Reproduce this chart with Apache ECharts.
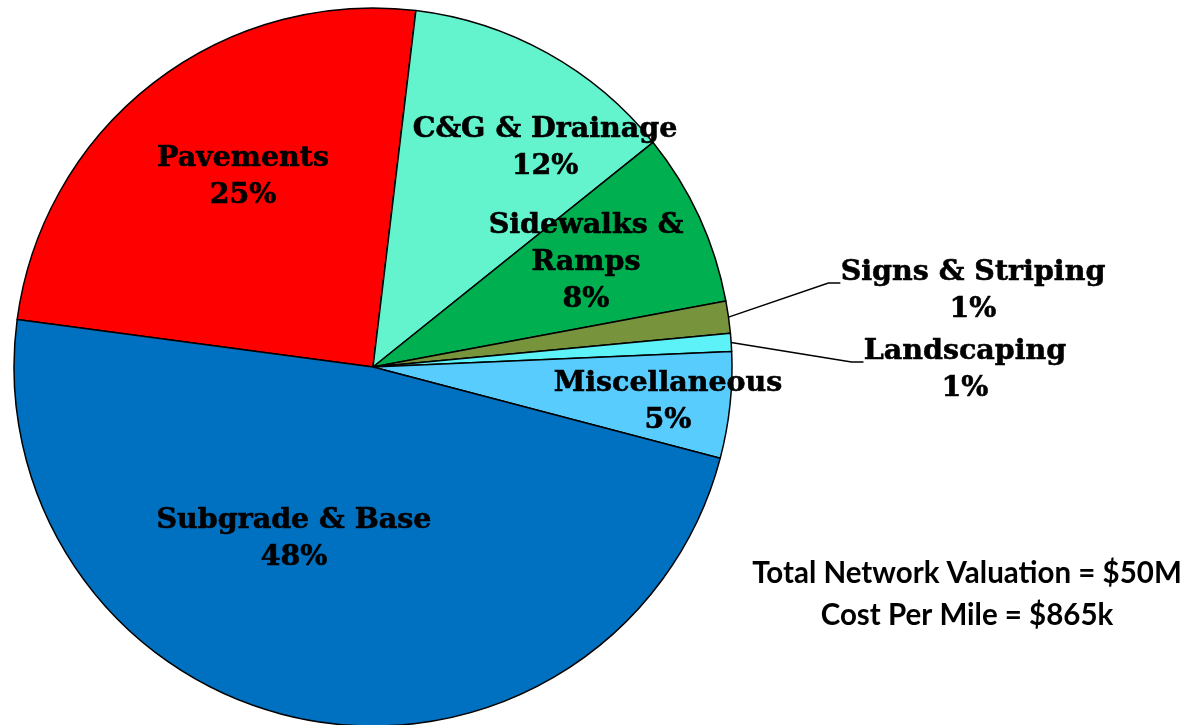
<!DOCTYPE html>
<html>
<head>
<meta charset="utf-8">
<script src="https://cdn.jsdelivr.net/npm/echarts@6/dist/echarts.min.js"></script>
<style>
html,body{margin:0;padding:0;background:#fff;}
#chart{width:1198px;height:725px;}
</style>
</head>
<body>
<div id="chart"></div>
<script>
// ---- data ----
const categories = ['Pavements', 'C&G & Drainage', 'Sidewalks & Ramps', 'Signs & Striping', 'Landscaping', 'Miscellaneous', 'Subgrade & Base'];
const shares = [24.76, 12.32, 7.8, 1.45, 0.81, 4.77, 47.95];
const noteLines = ['Total Network Valuation = $50M', 'Cost Per Mile = $865k'];

// ---- styling / layout ----
const colors = ['#FF0000', '#63F4CD', '#00B050', '#77933C', '#5CF2F7', '#57CCFD', '#0070C0'];
const outsideLabels = ['Signs & Striping', 'Landscaping'];
const labelText = { 'Sidewalks & Ramps': 'Sidewalks &\nRamps' };
const labelPos = {
  'Pavements': [243, 177],
  'C&G & Drainage': [545, 148],
  'Sidewalks & Ramps': [586, 263],
  'Signs & Striping': [973, 283],
  'Landscaping': [965, 362],
  'Miscellaneous': [668, 402],
  'Subgrade & Base': [294, 539]
};

const total = shares.reduce((a, b) => a + b, 0);
const seriesData = categories.map((name, i) => {
  const outside = outsideLabels.indexOf(name) >= 0;
  return {
    name: name,
    value: shares[i],
    itemStyle: { color: colors[i] },
    label: { position: outside ? 'outside' : 'inside' },
    labelLine: { show: outside }
  };
});

const chart = echarts.init(document.getElementById('chart'), null, { renderer: 'canvas' });
chart.setOption({
  animation: false,
  backgroundColor: '#ffffff',
  title: {
    text: noteLines.join('\n'),
    left: 962,
    top: 547,
    textAlign: 'center',
    textStyle: {
      fontFamily: 'Lato',
      fontWeight: 'bold',
      fontSize: 29.5,
      lineHeight: 42,
      color: '#000'
    }
  },
  series: [{
    type: 'pie',
    center: [373, 367],
    radius: 359,
    startAngle: 172.4,
    clockwise: true,
    avoidLabelOverlap: false,
    data: seriesData,
    itemStyle: { borderColor: '#000', borderWidth: 1.5 },
    label: {
      show: true,
      color: '#000',
      fontFamily: 'DejaVu Serif',
      fontWeight: 'bold',
      fontSize: 28.5,
      lineHeight: 37,
      align: 'center',
      textBorderColor: '#000',
      textBorderWidth: 0.6,
      rich: {
        gap: { lineHeight: 16, fontSize: 2, height: 16 }
      },
      formatter: function (p) {
        const t = labelText[p.name] || p.name;
        const pct = Math.round(p.value / total * 100) + '%';
        const lead = outsideLabels.indexOf(p.name) >= 0 ? '{gap| }\n' : '';
        return lead + t + '\n' + pct;
      }
    },
    labelLine: {
      length: 20,
      length2: 12,
      lineStyle: { color: '#000', width: 1.5 }
    },
    labelLayout: function (p) {
      const name = categories[p.dataIndex];
      const pos = labelPos[name];
      return { x: pos[0], y: pos[1], align: 'center', verticalAlign: 'middle' };
    }
  }]
});
</script>
</body>
</html>
